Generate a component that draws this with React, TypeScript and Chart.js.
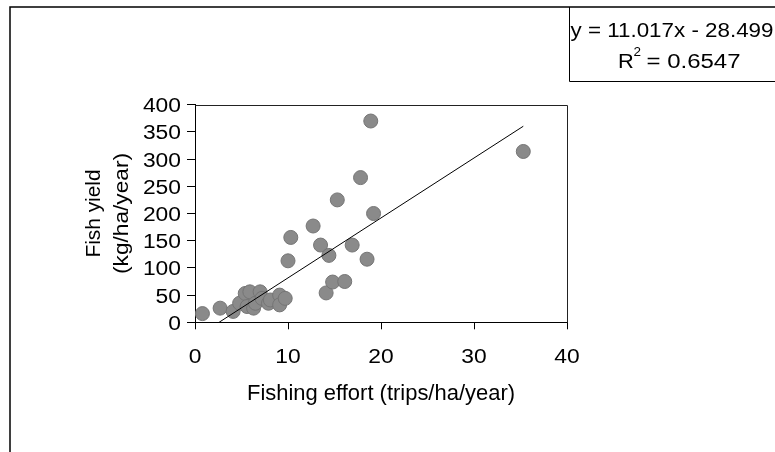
import React, { useEffect, useRef } from 'react';
import { Chart, registerables } from 'chart.js';

Chart.register(...registerables);

// ---- data ----
const effortX = [0.8, 2.7, 4.1, 4.8, 5.4, 5.9, 5.6, 6.3, 6.5, 7.0, 7.2, 7.9, 8.1, 9.1, 9.1, 9.7, 10.0, 10.3, 12.7, 13.5, 14.4, 15.3, 14.1, 14.8, 16.1, 16.9, 17.8, 18.5, 18.9, 19.2, 35.3];
const yieldY = [16, 26, 20, 35, 53, 56, 29, 26, 35, 56, 44, 35, 41, 50, 32, 44, 113, 156, 177, 142, 123, 225, 54, 74, 75, 142, 266, 116, 370, 200, 314];
const trendX = [2.59, 35.3];
const trendY = [0, 360.4];
const xTickValues = [0, 10, 20, 30, 40];
const yTickValues = [0, 50, 100, 150, 200, 250, 300, 350, 400];
const xTitle = 'Fishing effort (trips/ha/year)';
const yTitleLines = ['Fish yield', '(kg/ha/year)'];
const eqText = 'y = 11.017x - 28.499';
const r2Label = 'R';
const r2Sup = '2';
const r2Text = '= 0.6547';

const FONT = '"Liberation Sans", Arial, Helvetica, sans-serif';

function drawText(
  ctx: CanvasRenderingContext2D,
  text: string,
  x: number,
  y: number,
  size: number,
  align: CanvasTextAlign,
  opts: { sx?: number; width?: number; rot?: number } = {}
) {
  ctx.save();
  ctx.font = `${size}px ${FONT}`;
  let sx = opts.sx ?? 1;
  if (opts.width) {
    const w = ctx.measureText(text).width;
    if (w > 0) sx = opts.width / w;
  }
  ctx.translate(x, y);
  if (opts.rot) ctx.rotate(opts.rot);
  ctx.scale(sx, 1);
  ctx.textAlign = align;
  ctx.textBaseline = 'alphabetic';
  ctx.fillStyle = '#000';
  ctx.fillText(text, 0, 0);
  ctx.restore();
}

const decorPlugin = {
  id: 'decor',
  afterDraw(chart: any) {
    const ctx: CanvasRenderingContext2D = chart.ctx;
    const { left, right, top, bottom } = chart.chartArea;
    const xs = chart.scales.x;
    const ys = chart.scales.y;

    ctx.save();
    // outer chart frame
    ctx.strokeStyle = '#000';
    ctx.lineWidth = 1.5;
    ctx.beginPath();
    ctx.moveTo(10, 460);
    ctx.lineTo(10, 7);
    ctx.lineTo(780, 7);
    ctx.stroke();

    // plot area frame (top and right)
    ctx.lineWidth = 1;
    ctx.strokeStyle = '#222';
    ctx.beginPath();
    ctx.moveTo(Math.round(left) + 0.5, Math.round(top) + 0.5);
    ctx.lineTo(Math.round(right) + 0.5, Math.round(top) + 0.5);
    ctx.lineTo(Math.round(right) + 0.5, Math.round(bottom) + 0.5);
    ctx.stroke();

    // equation box
    ctx.strokeStyle = '#000';
    ctx.beginPath();
    ctx.moveTo(569.5, 7);
    ctx.lineTo(569.5, 81.5);
    ctx.lineTo(780, 81.5);
    ctx.stroke();
    ctx.restore();

    // tick labels
    yTickValues.forEach((v) => {
      const py = ys.getPixelForValue(v);
      drawText(ctx, String(v), 181, py + 7.5, 19.5, 'right', { sx: 1.17 });
    });
    xTickValues.forEach((v) => {
      const px = xs.getPixelForValue(v);
      drawText(ctx, String(v), px, 362.5, 19.5, 'center', { sx: 1.17 });
    });

    // axis titles
    drawText(ctx, xTitle, 381, 400, 21.5, 'center', { width: 268 });
    const cy = (top + bottom) / 2;
    drawText(ctx, yTitleLines[0], 100, cy, 19.5, 'center', { width: 88, rot: -Math.PI / 2 });
    drawText(ctx, yTitleLines[1], 128, cy, 19.5, 'center', { width: 121, rot: -Math.PI / 2 });

    // equation text
    drawText(ctx, eqText, 570.5, 37, 19.5, 'left', { width: 203 });
    drawText(ctx, r2Label, 618, 68.3, 19.5, 'left', { sx: 1.12 });
    drawText(ctx, r2Sup, 633.5, 56, 13.5, 'left', { sx: 1.0 });
    drawText(ctx, r2Text, 646.5, 68.3, 19.5, 'left', { width: 94 });
  },
};

export default function App() {
  const canvasRef = useRef<HTMLCanvasElement | null>(null);

  useEffect(() => {
    const canvas = canvasRef.current;
    if (!canvas) return;
    const points = effortX.map((x, i) => ({ x, y: yieldY[i] }));
    const trend = trendX.map((x, i) => ({ x, y: trendY[i] }));

    const chart = new Chart(canvas, {
      type: 'scatter',
      data: {
        datasets: [
          {
            label: 'Trend',
            data: trend,
            showLine: true,
            borderColor: '#000',
            borderWidth: 1,
            pointRadius: 0,
            fill: false,
          } as any,
          {
            label: 'Fish yield',
            data: points,
            backgroundColor: '#8a8a8a',
            borderColor: '#757575',
            borderWidth: 1,
            pointRadius: 7,
            pointHoverRadius: 7,
          },
        ],
      },
      options: {
        responsive: false,
        animation: false,
        events: [],
        layout: { padding: { left: 0, right: 208, top: 104.7, bottom: 0 } },
        plugins: {
          legend: { display: false },
          tooltip: { enabled: false },
          title: { display: false },
        },
        scales: {
          x: {
            type: 'linear',
            min: 0,
            max: 40,
            ticks: { display: false, stepSize: 10 },
            grid: { drawOnChartArea: false, drawTicks: true, tickLength: 7, color: '#000', lineWidth: 1 },
            border: { display: true, color: '#000', width: 1 },
            afterFit: (s: any) => {
              s.height = 129.7;
            },
          },
          y: {
            type: 'linear',
            min: 0,
            max: 400,
            ticks: { display: false, stepSize: 50 },
            grid: { drawOnChartArea: false, drawTicks: true, tickLength: 8, color: '#000', lineWidth: 1 },
            border: { display: true, color: '#000', width: 1 },
            afterFit: (s: any) => {
              s.width = 195;
            },
          },
        },
      },
      plugins: [decorPlugin],
    });

    return () => chart.destroy();
  }, []);

  return (
    <div style={{ position: 'fixed', left: 0, top: 0, width: 775, height: 452, background: '#fff' }}>
      <canvas ref={canvasRef} width={775} height={452} />
    </div>
  );
}
